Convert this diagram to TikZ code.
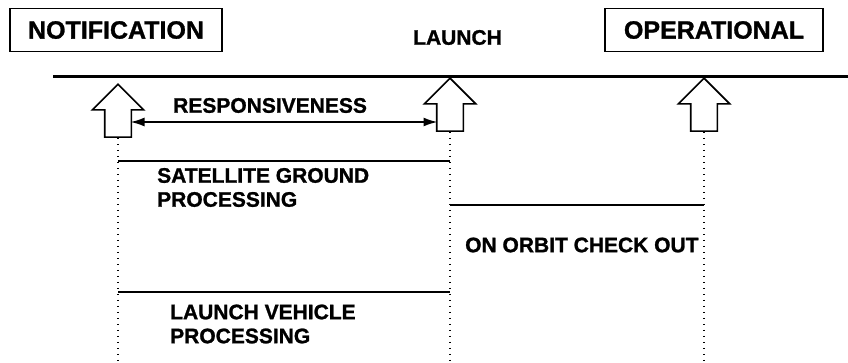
\documentclass[tikz,border=0pt]{standalone}
\usepackage{fontspec}
\setmainfont{Liberation Sans}[BoldFeatures={FakeBold=1.2}]
\usetikzlibrary{arrows.meta,shapes.arrows,calc}

\begin{document}
\begin{tikzpicture}[x=1pt,y=-1pt,font=\fontsize{21}{24}\selectfont\bfseries,
    lbl/.style={inner sep=0,anchor=west,align=left},
    evbox/.style={draw,line width=1.5pt,inner sep=0,minimum height=43pt,font=\fontsize{25}{28}\selectfont\bfseries},
    hollow/.style={single arrow,draw,line width=1.6pt,shape border rotate=90,inner sep=12.5pt,minimum height=53pt,minimum width=50pt,single arrow head extend=12.5pt,anchor=tip},
    seg/.style={line width=2pt},
    tick/.style={line width=1.2pt,dash pattern=on 1.5pt off 4.5pt}]
    \useasboundingbox (0,0) rectangle (848,362);
    \node[evbox,minimum width=212pt] (notif) at (116,30) {NOTIFICATION};
    \node[evbox,minimum width=218pt] (oper) at (714,30) {OPERATIONAL};
    \node[lbl] (launch) at (413,37.5) {LAUNCH};
    \coordinate (tl0) at (53,76); \coordinate (tl1) at (848,76);
    \draw[line width=3pt] (tl0)--(tl1);
    \node[hollow] (notarr) at (118,83) {};
    \node[hollow] (lncarr) at (450,77) {};
    \node[hollow] (oprarr) at (704,77) {};
    \coordinate (bot) at (0,362); \coordinate (respy) at (0,122);
    \coordinate (saty) at (0,161); \coordinate (orby) at (0,205); \coordinate (lvy) at (0,292);
    \draw[tick] (notarr.tail)--(notarr.tail |- bot);\draw[tick] (lncarr.tail)--(lncarr.tail |- bot);
    \draw[tick] (oprarr.tail)--(oprarr.tail |- bot);
    \draw[line width=1.8pt,{Latex[length=14pt,width=9pt]}-{Latex[length=14pt,width=9pt]}] ($(notarr.tail |- respy)+(12.5,0)$)--($(lncarr.tail |- respy)+(-12.5,0)$);
    \node[lbl] (resp) at (173,105.5) {RESPONSIVENESS};
    \draw[seg] (notarr.tail |- saty)--(lncarr.tail |- saty);
    \draw[seg] (lncarr.tail |- orby)--(oprarr.tail |- orby);
    \draw[seg] (notarr.tail |- lvy)--(lncarr.tail |- lvy);
    \node[lbl] (sat) at (157,187.5) {SATELLITE GROUND\\PROCESSING};
    \node[lbl] (orbit) at (465,245) {ON ORBIT CHECK OUT};
    \node[lbl] (lv) at (170,324) {LAUNCH VEHICLE\\PROCESSING};
\end{tikzpicture}
\end{document}
